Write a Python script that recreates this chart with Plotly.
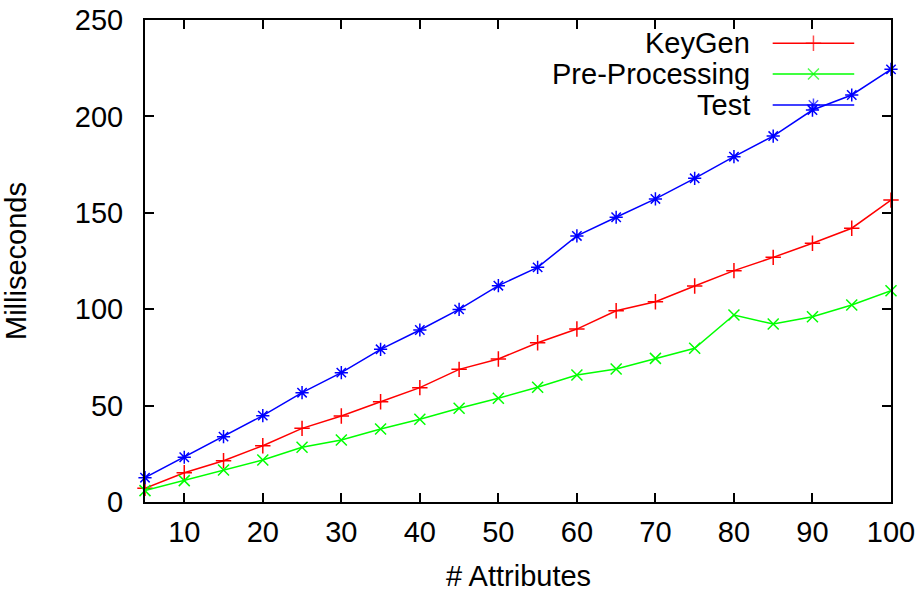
import plotly.graph_objects as go

# ---- data ----
attributes = [5, 10, 15, 20, 25, 30, 35, 40, 45, 50, 55, 60, 65, 70, 75, 80, 85, 90, 95, 100]
keygen = [7.1, 15.2, 21.4, 29.2, 38.2, 44.6, 52.0, 59.3, 68.8, 74.2,
          82.6, 89.7, 99.2, 103.9, 112.0, 120.0, 126.9, 134.2, 142.0, 156.6]
preproc = [5.9, 11.1, 16.6, 21.8, 28.4, 32.2, 37.9, 42.9, 48.6, 53.8,
           59.5, 65.9, 69.0, 74.5, 79.7, 97.0, 92.3, 96.1, 102.2, 109.6]
test = [12.6, 23.2, 33.9, 44.8, 56.7, 67.1, 79.2, 89.2, 99.9, 112.2,
        121.7, 138.0, 147.7, 157.2, 167.9, 179.1, 189.8, 203.3, 211.1, 224.4]
series_names = ["KeyGen", "Pre-Processing", "Test"]
x_ticks = [10, 20, 30, 40, 50, 60, 70, 80, 90, 100]
y_ticks = [0, 50, 100, 150, 200, 250]
x_title = "# Attributes"
y_title = "Milliseconds"

colors = ["#ff0000", "#00ff00", "#0000ff"]
symbols = ["cross-thin-open", "x-thin-open", "asterisk-open"]
FONT = "Liberation Sans, Arial, Helvetica, sans-serif"
FS = 29

fig = go.Figure()
for name, ys, c, s in zip(series_names, [keygen, preproc, test], colors, symbols):
    fig.add_trace(go.Scatter(
        x=attributes, y=ys, mode="lines+markers", name=name,
        line=dict(color=c, width=1.5),
        marker=dict(symbol=s, size=11, color=c, line=dict(color=c, width=1.5)),
        cliponaxis=False, showlegend=False,
    ))

# ---- gnuplot-style legend (text left, sample right) on an overlay axis ----
legend_rows = [0.9517, 0.888, 0.8237]
x_line0, x_line1, x_text = 0.8414, 0.9507, 0.8137
for name, c, s, yy in zip(series_names, colors, symbols, legend_rows):
    fig.add_trace(go.Scatter(
        x=[x_line0, (x_line0 + x_line1) / 2, x_line1], y=[yy, yy, yy],
        xaxis="x2", yaxis="y2", mode="lines+markers",
        line=dict(color=c, width=1.5),
        marker=dict(symbol=s, size=[0, 11, 0], color=c, line=dict(color=c, width=1.5)),
        showlegend=False, hoverinfo="skip", cliponaxis=False,
    ))
    fig.add_annotation(
        x=x_text, y=yy, xref="paper", yref="paper", text=name, showarrow=False,
        xanchor="right", yanchor="middle", font=dict(family=FONT, size=FS, color="black"),
    )

# axis titles
fig.add_annotation(x=0.5, y=-0.1535, xref="paper", yref="paper", text=x_title,
                   showarrow=False, xanchor="center", yanchor="middle",
                   font=dict(family=FONT, size=FS, color="black"))
fig.add_annotation(x=-0.1729, y=0.5, xref="paper", yref="paper", text=y_title,
                   showarrow=False, xanchor="center", yanchor="middle", textangle=-90,
                   font=dict(family=FONT, size=FS, color="black"))

axis_common = dict(
    showline=True, linecolor="black", linewidth=2, mirror="ticks",
    ticks="inside", ticklen=9, tickwidth=2, tickcolor="black",
    showgrid=False, zeroline=False, automargin=False,
    tickfont=dict(family=FONT, size=FS, color="black"),
)

fig.update_layout(
    width=916, height=592,
    margin=dict(l=145, r=25, t=20, b=90),
    paper_bgcolor="white", plot_bgcolor="white",
    font=dict(family=FONT, size=FS, color="black"),
    xaxis=dict(range=[5, 100], tickvals=x_ticks, ticklabelstandoff=3, **axis_common),
    yaxis=dict(range=[0, 250], tickvals=y_ticks, ticklabelstandoff=14, **axis_common),
    xaxis2=dict(range=[0, 1], overlaying="x", visible=False, domain=[0, 1]),
    yaxis2=dict(range=[0, 1], overlaying="y", visible=False, domain=[0, 1]),
)

fig.write_html(
    "out.html",
    config={"displayModeBar": False},
    post_script="document.body.style.margin='0';document.body.style.overflow='hidden';",
)
